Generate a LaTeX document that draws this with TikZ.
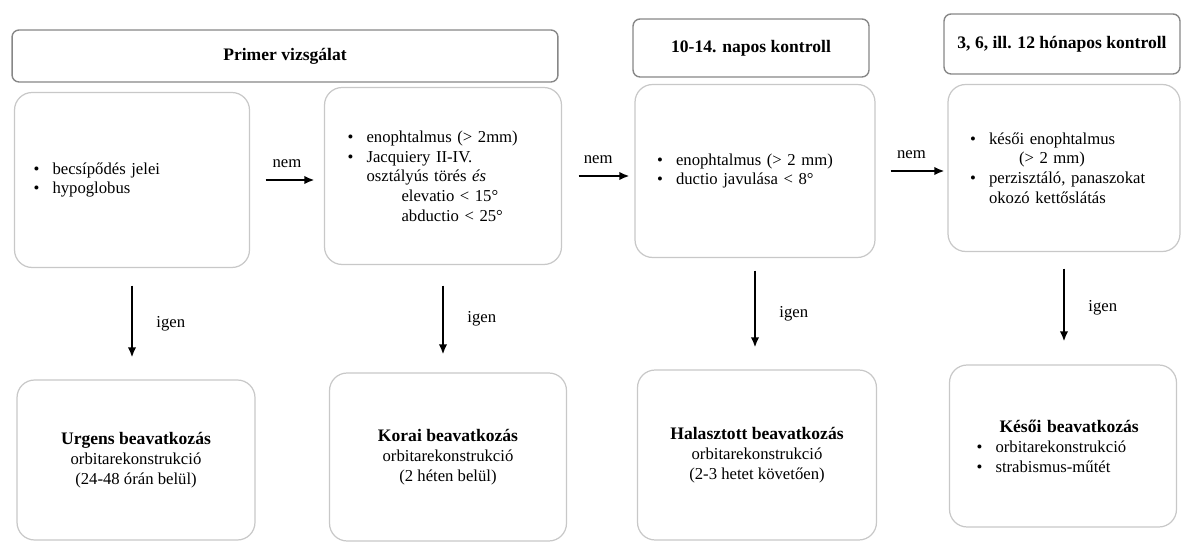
\documentclass[tikz,border=0pt]{standalone}
\usepackage{fontspec}
\setmainfont{Liberation Serif}
\usepackage{tikz}
\usetikzlibrary{arrows.meta}
\definecolor{boxline}{RGB}{200,200,200}
\definecolor{headline}{RGB}{135,135,135}
\newcommand{\blt}{\makebox[0.38cm][l]{\textbullet}}
\newcommand{\ind}{\hspace*{0.38cm}}

\begin{document}
\begin{tikzpicture}[x=0.02cm, y=-0.02cm,
	head/.style={draw=headline, line width=0.8pt, rounded corners=4pt, fill=white,
		font=\fontsize{10}{12}\selectfont\bfseries},
	cond/.style={draw=boxline, line width=0.7pt, rounded corners=10pt, align=left,
		font=\fontsize{9.5}{11.2}\selectfont},
	result/.style={draw=boxline, line width=0.7pt, rounded corners=10pt, align=center,
		font=\fontsize{9.5}{11.4}\selectfont},
	flow/.style={line width=1.1pt, -{Latex[length=2mm,width=1.7mm]}},
	lbl/.style={font=\fontsize{9.5}{11.4}\selectfont}]
	
	\useasboundingbox (0,0) rectangle (1181,543);
	
	% headers
	\node[head, minimum width=10.92cm, minimum height=1.04cm] (h1) at (285,56) {Primer vizsgálat};
	\node[head, minimum width=4.72cm, minimum height=1.16cm] (h2) at (751,48) {10-14. napos kontroll};
	\node[head, minimum width=4.72cm, minimum height=1.2cm] (h3) at (1062,44) {3, 6, ill. 12 hónapos kontroll};
	
	% conditions
	\node[cond, text width=3.94cm, inner xsep=0.38cm, minimum height=3.5cm] (b1) at (132,180)
		{\blt becsípődés jelei\\ \blt hypoglobus};
	\node[cond, text width=3.82cm, inner xsep=0.46cm, minimum height=3.54cm] (b2) at (443,176)
		{\blt enophtalmus (> 2mm)\\
		 \blt Jacquiery II-IV.\\
		 \ind osztályús törés \textit{és}\\
		 \ind\hspace*{0.7cm}elevatio < 15°\\
		 \ind\hspace*{0.7cm}abductio < 25°};
	\node[cond, text width=3.92cm, inner xsep=0.44cm, minimum height=3.46cm] (b3) at (755,171)
		{\blt enophtalmus (> 2 mm)\\ \blt ductio javulása < 8°};
	\node[cond, text width=3.76cm, inner xsep=0.44cm, minimum height=3.34cm] (b4) at (1064,168)
		{\blt késői enophtalmus\\
		 \ind\hspace*{0.6cm}(> 2 mm)\\
		 \blt perzisztáló, panaszokat\\
		 \ind okozó kettőslátás};
	
	% interventions
	\node[result, minimum width=4.76cm, minimum height=3.2cm] (r1) at (136,460)
		{\textbf{\fontsize{10}{11.4}\selectfont Urgens beavatkozás}\\ orbitarekonstrukció\\ (24-48 órán belül)};
	\node[result, minimum width=4.74cm, minimum height=3.36cm] (r2) at (448,457)
		{\textbf{\fontsize{10}{11.4}\selectfont Korai beavatkozás}\\ orbitarekonstrukció\\ (2 héten belül)};
	\node[result, minimum width=4.78cm, minimum height=3.4cm] (r3) at (757,455)
		{\textbf{\fontsize{10}{11.4}\selectfont Halasztott beavatkozás}\\ orbitarekonstrukció\\ (2-3 hetet követően)};
	\node[result, align=left, text width=3.46cm, inner xsep=0.54cm, minimum height=3.24cm] (r4) at (1063,446)
		{\hspace*{0.46cm}\textbf{\fontsize{10}{11.4}\selectfont Késői beavatkozás}\\
		 \blt orbitarekonstrukció\\ \blt strabismus-műtét};
	
	% nem
	\draw[flow, shorten <=0.31cm, shorten >=0.19cm] (b1.east) -- (b1.east -| b2.west)
		node[lbl, midway, above=3pt] (n1) {nem};
	\draw[flow, shorten <=0.33cm, shorten >=0.1cm] (b2.east) -- (b2.east -| b3.west)
		node[lbl, midway, above=3pt] (n2) {nem};
	\draw[flow, shorten <=0.3cm, shorten >=0.06cm] (b3.east) -- (b3.east -| b4.west)
		node[lbl, midway, above=3pt] (n3) {nem};
	
	% igen
	\draw[flow, shorten <=0.35cm, shorten >=0.44cm] (b1.south) -- (b1.south |- r1.north)
		node[lbl, midway, right=10pt] (i1) {igen};
	\draw[flow, shorten <=0.41cm, shorten >=0.36cm] (b2.south) -- (b2.south |- r2.north)
		node[lbl, midway, right=10pt] (i2) {igen};
	\draw[flow, shorten <=0.25cm, shorten >=0.44cm] (b3.south) -- (b3.south |- r3.north)
		node[lbl, midway, right=10pt] (i3) {igen};
	\draw[flow, shorten <=0.33cm, shorten >=0.46cm] (b4.south) -- (b4.south |- r4.north)
		node[lbl, midway, right=10pt] (i4) {igen};
	
\end{tikzpicture}
\end{document}
